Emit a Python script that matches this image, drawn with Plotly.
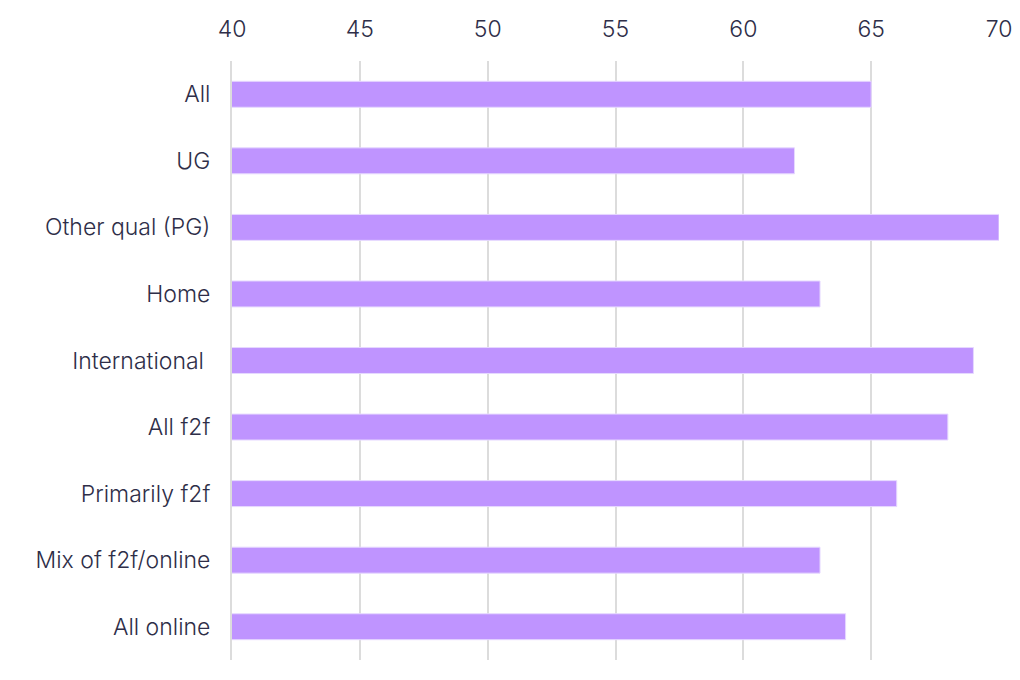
import plotly.graph_objects as go

categories = ["All", "UG", "Other qual (PG)", "Home", "International ",
              "All f2f", "Primarily f2f", "Mix of f2f/online", "All online"]
values = [65, 62, 70, 63, 69, 68, 66, 63, 64]
tick_vals = [40, 45, 50, 55, 60, 65, 70]

fig = go.Figure(go.Bar(
    x=values, y=categories, orientation="h",
    marker=dict(color="#BF94FF", line=dict(color="#E6D8FF", width=1)),
    width=0.39,
))

text_color = "#2E2E48"
fig.update_layout(
    width=1020, height=680,
    margin=dict(l=232, r=21, t=61, b=20, autoexpand=False),
    paper_bgcolor="white", plot_bgcolor="white",
    font=dict(family="Inter, sans-serif", color=text_color, size=23, weight=300),
    showlegend=False,
)
fig.update_xaxes(
    side="top", range=[40, 70], tickvals=tick_vals,
    showgrid=True, gridcolor="#DCDCDC", gridwidth=2,
    zeroline=False, showline=False, ticks="", automargin=False,
    tickfont=dict(size=23, color=text_color, weight=300),
    ticklabelstandoff=18,
)
fig.update_yaxes(
    autorange="reversed", categoryorder="array", categoryarray=categories,
    showgrid=False, showline=True, linecolor="#DCDCDC", linewidth=2,
    ticks="", automargin=False,
    tickfont=dict(size=23, color=text_color, weight=300),
    ticklabelstandoff=15,
)
fig.write_html("out.html", config={"displayModeBar": False},
               post_script="document.body.style.margin='0';")
